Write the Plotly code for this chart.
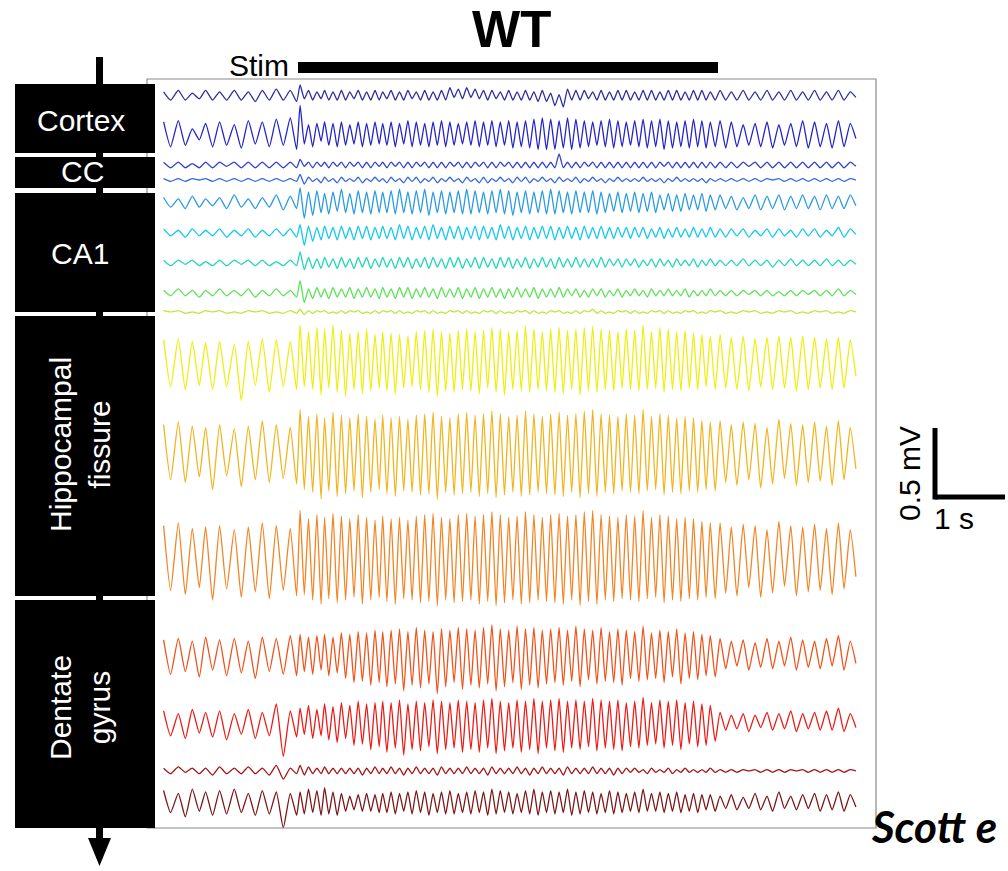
import numpy as np
import plotly.graph_objects as go

# ---------------- data ----------------
# times (s) of the successive peaks and troughs shared by all channels
PEAK_T = [0.08, 0.29, 0.49, 0.68, 0.88, 1.09, 1.29, 1.49, 1.69, 1.89,
          2.03, 2.15, 2.27, 2.38, 2.50, 2.62, 2.74, 2.86, 2.98, 3.10,
          3.21, 3.33, 3.45, 3.57, 3.69, 3.81, 3.93, 4.05, 4.17, 4.29,
          4.41, 4.53, 4.65, 4.77, 4.89, 5.01, 5.13, 5.25, 5.37, 5.49,
          5.61, 5.73, 5.85, 5.97, 6.09, 6.21, 6.33, 6.45, 6.57, 6.69,
          6.81, 6.93, 7.05, 7.17, 7.29, 7.41, 7.53, 7.65, 7.77, 7.89,
          8.03, 8.19, 8.36, 8.53, 8.70, 8.87, 9.04, 9.21, 9.38, 9.55, 9.72, 9.89]
TROUGH_T = [0.18, 0.39, 0.59, 0.78, 0.98, 1.19, 1.39, 1.59, 1.79, 1.98,
            2.09, 2.21, 2.33, 2.44, 2.56, 2.68, 2.80, 2.92, 3.04, 3.16,
            3.27, 3.39, 3.51, 3.63, 3.75, 3.87, 3.99, 4.11, 4.23, 4.35,
            4.47, 4.59, 4.71, 4.83, 4.95, 5.07, 5.19, 5.31, 5.43, 5.55,
            5.67, 5.79, 5.91, 6.03, 6.15, 6.27, 6.39, 6.51, 6.63, 6.75,
            6.87, 6.99, 7.11, 7.23, 7.35, 7.47, 7.59, 7.71, 7.83, 7.96,
            8.11, 8.27, 8.44, 8.61, 8.78, 8.95, 9.12, 9.29, 9.46, 9.63, 9.80, 9.97]

STIM_START_S, STIM_END_S = 2.0, 8.0
SCALE_T_S, SCALE_V_MV = 1.0, 0.5

channel_names = ["Cortex 1", "Cortex 2", "CC 1", "CC 2", "CA1 1", "CA1 2", "CA1 3", "CA1 4", "CA1 5",
                 "HF 1", "HF 2", "HF 3", "DG 1", "DG 2", "DG 3", "DG 4"]
channel_colors = ["#2e2e9e", "#2323c8", "#3340cc", "#3366dd", "#2a9ae0", "#14c8f0", "#22d6b8", "#5ee25a",
                  "#bce63c", "#eeee10", "#f2b41e", "#f28424", "#f0521a", "#ec1a14", "#a51414", "#7a1616"]
channel_offset_mV = [-0.123, -0.391, -0.623, -0.732, -0.899, -1.116, -1.333, -1.551, -1.688,
                     -2.051, -2.725, -3.486, -4.174, -4.659, -5.014, -5.246]

# peak/trough values (units of 0.01 mV), alternating peak, trough
cortex_1 = [3,-3, 4,-3, 2,-2, 4,-3, 3,-3, 4,-3, 3,-4, 4,-3, 5,-3, 4,-4,
            8,-2, 4,-3, 3,-2, 4,-3, 3,-3, 4,-3, 3,-2, 4,-3, 3,-3, 4,-3,
            3,-2, 4,-3, 3,-3, 4,-2, 3,-3, 4,-3, 3,-3, 4,-3, 6,-1, 5,-2,
            6,-1, 5,-2, 4,-3, 4,-2, 3,-3, 4,-3, 3,-3, 4,-3, 3,-4, 4,-4,
            2,-7, 1,-8, 5,-3, 4,-3, 4,-2, 3,-3, 4,-3, 3,-3, 4,-3, 4,-3,
            3,-3, 4,-3, 4,-3, 3,-3, 4,-3, 4,-3, 3,-3, 4,-3, 4,-3, 3,-3,
            4,-3, 3,-3, 4,-3, 3,-3, 4,-3, 3,-3, 4,-3, 3,-3, 4,-3, 3,-3, 4,-3, 3,-1]
cortex_2 = [8,-10, 9,-9, 3,-5, 7,-10, 8,-9, 6,-11, 9,-8, 8,-10, 10,-9, 11,-12,
            20,-8, 6,-10, 7,-6, 8,-9, 7,-10, 8,-9, 6,-8, 8,-10, 7,-9, 8,-8,
            7,-9, 8,-10, 7,-8, 9,-10, 8,-9, 7,-10, 8,-9, 9,-10, 8,-9, 7,-8,
            8,-9, 9,-10, 8,-9, 9,-10, 8,-9, 9,-11, 8,-10, 9,-11, 10,-12, 11,-12,
            10,-12, 9,-11, 11,-12, 10,-11, 9,-10, 8,-9, 9,-10, 10,-11, 9,-10, 8,-9,
            9,-10, 10,-11, 9,-10, 10,-12, 9,-11, 8,-10, 9,-11, 10,-10, 9,-11, 8,-10,
            9,-11, 8,-10, 6,-9, 7,-10, 8,-11, 6,-9, 7,-10, 9,-11, 8,-10, 7,-11, 9,-10, 7,-4]
cc_1 = [2,-2, 2,-2, 1,-2, 2,-2, 2,-1, 2,-2, 2,-2, 2,-2, 2,-2, 2,-2,
        4,-1, 2,-2, 2,-1, 2,-2, 2,-1, 2,-2, 2,-1, 2,-2, 2,-2, 2,-1,
        2,-2, 2,-1, 2,-2, 2,-2, 2,-1, 2,-2, 2,-2, 2,-2, 2,-1, 2,-2,
        2,-2, 2,-1, 2,-2, 2,-2, 2,-1, 2,-2, 2,-2, 2,-2, 2,-2, 2,-2,
        2,-2, 8,-2, 2,-2, 2,-2, 2,-1, 2,-2, 2,-2, 2,-2, 2,-2, 2,-2,
        2,-2, 2,-2, 2,-2, 2,-1, 2,-2, 2,-2, 2,-2, 2,-2, 2,-2, 2,-2,
        2,-2, 2,-2, 2,-1, 2,-2, 2,-2, 2,-2, 2,-2, 2,-2, 2,-2, 2,-2, 2,-2, 2,-1]
cc_2 = [1,-1, 1,-1, 1,0, 1,-1, 1,-1, 1,-1, 1,-1, 1,-1, 1,-1, 1,-1,
        4,-3, 2,-1, 1,-2, 2,-1, 1,-2, 2,-1, 1,-1, 2,-2, 1,-1, 2,-1,
        1,-2, 2,-1, 1,-2, 2,-1, 2,-2, 1,-1, 2,-2, 1,-1, 2,-1, 1,-2,
        2,-1, 1,-2, 2,-2, 1,-1, 2,-1, 1,-2, 2,-1, 2,-2, 1,-1, 2,-1,
        1,-2, 2,-1, 1,-1, 2,-2, 1,-1, 2,-1, 1,-2, 1,-1, 2,-1, 1,-1,
        1,-1, 2,-1, 1,-1, 1,-2, 1,-1, 2,-1, 1,-1, 1,-1, 1,-2, 1,-1,
        1,-1, 1,-1, 1,-1, 1,-1, 1,0, 1,-1, 1,-1, 1,-1, 1,-1, 1,-1, 1,-1, 1,0]
ca1_1 = [4,-3, 3,-4, 5,-3, 3,-2, 4,-4, 6,-3, 3,-4, 4,-3, 6,-5, 5,-4,
         11,-11, 8,-9, 9,-7, 7,-8, 8,-6, 10,-7, 7,-8, 9,-7, 8,-8, 9,-7,
         8,-7, 9,-8, 10,-7, 8,-8, 9,-7, 10,-9, 8,-7, 9,-8, 8,-7, 9,-8,
         10,-8, 9,-7, 8,-8, 9,-7, 10,-8, 9,-9, 8,-7, 9,-8, 8,-7, 9,-8,
         10,-8, 9,-7, 8,-8, 9,-7, 8,-7, 9,-8, 8,-7, 7,-6, 8,-7, 7,-6,
         8,-7, 7,-6, 8,-7, 6,-5, 7,-6, 6,-6, 7,-5, 6,-5, 7,-6, 6,-5,
         6,-4, 5,-5, 4,-4, 6,-5, 5,-4, 6,-5, 5,-4, 6,-4, 5,-5, 6,-4, 5,-4, 6,-2]
ca1_2 = [3,-2, 2,-3, 3,-2, 2,-2, 3,-3, 2,-2, 3,-3, 2,-2, 3,-2, 3,-3,
         6,-9, 5,-6, 4,-5, 5,-4, 4,-5, 5,-4, 4,-5, 5,-4, 5,-5, 4,-4,
         5,-4, 4,-5, 6,-4, 5,-5, 4,-4, 5,-5, 6,-4, 4,-5, 5,-4, 5,-5,
         4,-4, 5,-5, 5,-4, 4,-5, 6,-4, 5,-5, 4,-4, 5,-5, 4,-4, 5,-4,
         5,-5, 4,-4, 5,-4, 4,-5, 5,-4, 4,-4, 5,-4, 4,-4, 4,-3, 4,-4,
         4,-3, 4,-4, 3,-3, 4,-4, 3,-3, 4,-3, 3,-3, 4,-3, 3,-3, 4,-3,
         3,-3, 3,-2, 3,-3, 2,-2, 3,-3, 3,-2, 2,-3, 3,-2, 3,-3, 2,-2, 4,-3, 3,-1]
ca1_3 = [2,-2, 2,-1, 2,-2, 1,-2, 2,-2, 2,-1, 2,-2, 2,-2, 1,-2, 2,-2,
         8,-5, 4,-4, 3,-4, 4,-3, 3,-4, 4,-3, 3,-4, 4,-3, 4,-4, 3,-3,
         4,-3, 3,-4, 4,-3, 4,-4, 3,-3, 4,-4, 4,-3, 3,-4, 4,-3, 4,-4,
         3,-3, 4,-4, 4,-3, 3,-4, 4,-3, 4,-4, 3,-3, 4,-4, 3,-3, 4,-3,
         3,-4, 4,-3, 3,-3, 4,-3, 3,-3, 3,-3, 4,-3, 3,-2, 3,-3, 3,-2,
         3,-3, 2,-2, 3,-3, 3,-2, 2,-3, 3,-2, 2,-2, 3,-3, 2,-2, 3,-2,
         2,-2, 2,-2, 3,-2, 2,-2, 2,-3, 2,-2, 3,-2, 2,-2, 2,-2, 3,-2, 2,-2, 2,-1]
ca1_4 = [2,-2, 3,-2, 2,-3, 2,-2, 3,-2, 2,-2, 3,-3, 2,-2, 3,-2, 2,-3,
         9,-7, 3,-4, 4,-3, 3,-4, 4,-3, 3,-3, 4,-4, 3,-3, 4,-3, 3,-4,
         4,-3, 3,-4, 4,-3, 4,-4, 3,-3, 4,-3, 3,-4, 4,-3, 3,-3, 4,-4,
         3,-3, 4,-4, 3,-3, 4,-3, 3,-4, 3,-3, 4,-3, 3,-3, 4,-4, 3,-3,
         3,-3, 4,-3, 3,-2, 3,-3, 2,-3, 3,-2, 3,-3, 2,-2, 3,-3, 2,-2,
         3,-2, 2,-3, 3,-2, 2,-2, 3,-2, 2,-2, 3,-3, 2,-2, 2,-2, 3,-2,
         2,-2, 2,-2, 2,-1, 2,-2, 2,-2, 1,-2, 2,-2, 2,-1, 2,-2, 2,-2, 3,-2, 2,-1]
ca1_5 = [1,0, 1,-1, 0,-1, 1,0, 1,-1, 0,-1, 1,0, 1,-1, 0,-1, 1,-1,
         2,-2, 1,-1, 1,0, 1,-1, 0,-1, 1,-1, 1,0, 1,-1, 0,-1, 1,-1,
         1,0, 1,-1, 1,-1, 0,-1, 1,0, 1,-1, 1,-1, 0,-1, 1,0, 1,-1,
         1,-1, 0,-1, 1,0, 1,-1, 1,-1, 0,-1, 1,0, 1,-1, 1,-1, 0,-1,
         1,0, 1,-1, 0,-1, 1,-1, 1,0, 2,-1, 1,-1, 0,-1, 1,0, 1,-1,
         1,-1, 0,-1, 1,0, 1,-1, 1,-1, 0,-1, 1,0, 1,-1, 0,-1, 1,0,
         1,-1, 0,-1, 1,0, 1,-1, 0,-1, 1,0, 1,-1, 0,-1, 1,0, 1,-1, 0,-1, 1,0]
hf_1 = [16,-18, 17,-20, 15,-17, 14,-20, 15,-18, 13,-28, 15,-17, 17,-22, 16,-18, 15,-20,
        27,-18, 22,-20, 25,-24, 24,-19, 27,-22, 23,-25, 21,-20, 22,-23, 24,-21, 20,-19,
        22,-21, 21,-23, 20,-19, 19,-18, 22,-20, 23,-22, 24,-25, 22,-21, 21,-22, 23,-20,
        24,-21, 22,-23, 23,-19, 25,-22, 24,-24, 22,-20, 23,-21, 26,-22, 24,-20, 22,-21,
        24,-22, 25,-23, 23,-20, 24,-24, 25,-21, 26,-22, 24,-20, 23,-21, 22,-19, 24,-20,
        23,-21, 27,-20, 22,-19, 25,-22, 24,-20, 22,-21, 23,-19, 21,-20, 20,-18, 19,-20,
        20,-19, 18,-20, 19,-21, 17,-18, 18,-20, 19,-19, 18,-21, 19,-20, 18,-19, 17,-20, 18,-19, 16,-10]
hf_2 = [22,-18, 24,-20, 21,-16, 20,-25, 22,-15, 19,-23, 21,-18, 25,-20, 22,-17, 20,-21,
        33,-25, 28,-27, 30,-32, 27,-26, 31,-30, 29,-28, 27,-26, 30,-31, 28,-27, 26,-25,
        29,-28, 27,-30, 28,-26, 26,-27, 29,-29, 30,-28, 31,-32, 28,-27, 27,-29, 30,-28,
        31,-27, 29,-30, 30,-28, 32,-31, 30,-29, 28,-27, 29,-30, 32,-29, 30,-27, 28,-28,
        30,-29, 31,-30, 29,-27, 30,-31, 32,-28, 33,-30, 30,-27, 29,-28, 28,-26, 30,-27,
        29,-28, 33,-26, 28,-25, 30,-29, 29,-27, 27,-28, 28,-26, 27,-27, 25,-25, 24,-26,
        25,-20, 22,-22, 24,-18, 23,-24, 20,-21, 26,-17, 23,-22, 22,-20, 24,-19, 21,-22, 25,-18, 20,-10]
hf_3 = [25,-22, 27,-25, 23,-20, 24,-29, 25,-21, 22,-27, 24,-23, 27,-28, 25,-22, 23,-26,
        36,-25, 30,-29, 33,-32, 31,-28, 34,-31, 32,-29, 30,-27, 33,-32, 31,-29, 29,-27,
        32,-30, 30,-32, 31,-28, 29,-29, 32,-31, 33,-30, 34,-33, 31,-29, 30,-31, 33,-30,
        34,-29, 32,-32, 33,-30, 35,-33, 33,-31, 31,-29, 32,-32, 35,-31, 33,-29, 31,-30,
        33,-31, 34,-32, 32,-29, 33,-33, 35,-30, 36,-32, 33,-29, 32,-30, 31,-28, 33,-29,
        32,-30, 36,-28, 31,-27, 33,-31, 32,-29, 30,-30, 31,-28, 30,-29, 28,-27, 27,-28,
        27,-24, 24,-26, 26,-20, 25,-27, 22,-24, 28,-19, 25,-26, 24,-23, 26,-22, 23,-25, 27,-21, 22,-12]
dg_1 = [11,-14, 12,-12, 10,-16, 13,-11, 11,-15, 12,-13, 10,-17, 13,-12, 12,-14, 14,-15,
        15,-12, 13,-14, 14,-11, 15,-15, 13,-13, 16,-17, 15,-20, 17,-19, 16,-22, 18,-20,
        17,-23, 18,-21, 19,-26, 17,-22, 20,-24, 18,-21, 17,-28, 19,-23, 18,-20, 20,-25,
        19,-22, 18,-24, 20,-21, 22,-26, 19,-23, 18,-20, 21,-25, 19,-22, 20,-24, 18,-21,
        19,-20, 20,-22, 18,-19, 21,-23, 19,-18, 18,-21, 20,-19, 17,-20, 19,-22, 18,-17,
        17,-19, 21,-18, 16,-17, 18,-20, 17,-16, 19,-21, 16,-17, 17,-18, 15,-15, 14,-16,
        12,-10, 10,-8, 11,-11, 9,-9, 12,-10, 10,-8, 13,-11, 11,-9, 10,-10, 12,-8, 14,-11, 10,-6]
dg_2 = [8,-10, 6,-12, 9,-8, 7,-11, 8,-13, 6,-9, 9,-12, 7,-10, 13,-25, 8,-11,
        10,-9, 12,-12, 9,-10, 13,-13, 11,-15, 14,-12, 12,-17, 15,-16, 13,-20, 14,-18,
        15,-22, 14,-19, 16,-24, 13,-20, 15,-21, 14,-18, 16,-23, 15,-20, 14,-19, 16,-22,
        15,-20, 14,-22, 16,-19, 17,-23, 15,-21, 14,-19, 16,-22, 15,-20, 17,-23, 15,-19,
        16,-21, 17,-22, 15,-19, 16,-20, 15,-18, 17,-21, 16,-19, 15,-20, 16,-21, 14,-18,
        15,-19, 18,-17, 14,-16, 16,-19, 15,-17, 16,-20, 14,-16, 15,-18, 13,-17, 12,-14,
        7,-6, 5,-5, 6,-7, 5,-4, 7,-6, 6,-5, 8,-7, 6,-5, 7,-6, 8,-6, 10,-7, 6,-4]
dg_3 = [2,-2, 3,-1, 2,-2, 2,-3, 3,-2, 2,-2, 3,-2, 2,-3, 4,-6, 2,-2,
        4,-3, 3,-2, 2,-2, 3,-2, 2,-2, 2,-2, 2,-2, 2,-3, 2,-2, 3,-2,
        2,-2, 3,-2, 2,-3, 2,-2, 3,-2, 2,-2, 2,-3, 3,-2, 2,-2, 2,-2,
        3,-2, 2,-2, 2,-3, 3,-2, 2,-2, 2,-2, 3,-2, 2,-3, 2,-2, 3,-2,
        2,-2, 2,-3, 3,-2, 2,-2, 2,-2, 3,-2, 2,-2, 2,-3, 2,-2, 2,-1,
        2,-1, 1,-2, 2,-1, 1,-1, 2,-2, 1,-1, 2,-1, 1,-1, 1,-1, 2,-1,
        1,-1, 1,-1, 1,0, 1,-1, 1,-1, 1,-1, 1,0, 1,-1, 1,-1, 1,-1, 1,-1, 1,0]
dg_4 = [9,-7, 7,-10, 10,-6, 8,-9, 9,-8, 10,-7, 7,-9, 9,-8, 8,-18, 7,-9,
        8,-8, 10,-7, 9,-9, 11,-8, 8,-9, 7,-6, 5,-5, 6,-6, 7,-6, 6,-7,
        7,-7, 8,-8, 7,-6, 8,-8, 9,-7, 8,-9, 7,-7, 8,-8, 9,-8, 7,-7,
        8,-8, 9,-7, 8,-9, 10,-8, 9,-7, 8,-8, 7,-7, 9,-8, 10,-9, 8,-7,
        9,-8, 8,-7, 10,-9, 8,-8, 9,-7, 8,-8, 7,-7, 9,-8, 8,-7, 7,-6,
        8,-7, 10,-6, 7,-6, 8,-7, 7,-6, 8,-7, 6,-6, 7,-7, 6,-5, 6,-6,
        5,-4, 6,-5, 4,-4, 7,-5, 5,-6, 8,-4, 5,-5, 6,-4, 7,-6, 6,-5, 8,-6, 6,-3]

channel_values = [cortex_1, cortex_2, cc_1, cc_2, ca1_1, ca1_2, ca1_3, ca1_4, ca1_5,
                  hf_1, hf_2, hf_3, dg_1, dg_2, dg_3, dg_4]

region_labels = ["Cortex", "CC", "CA1", "Hippocampal<br>fissure", "Dentate<br>gyrus"]

# ---------------- layout geometry (pixels) ----------------
W, H = 1008, 871
X0_PX, PX_PER_S = 158, 70.0      # t = 0 s position, 1 s = 70 px
Y0_PX, PX_PER_MV = 79, 138.0     # 0 mV position, 0.5 mV = 69 px
FONT = "Liberation Sans, Arial, sans-serif"


def px_x(px):
    return px / W


def px_y(py):
    return 1 - py / H


def rect_px(x0, y0, x1, y1, **kw):
    return dict(type="rect", xref="paper", yref="paper",
                x0=px_x(x0), x1=px_x(x1), y0=px_y(y1), y1=px_y(y0), **kw)


fig = go.Figure()

ext_t = []
for p, tr in zip(PEAK_T, TROUGH_T):
    ext_t += [p, tr]

for name, col, off, vals in zip(channel_names, channel_colors, channel_offset_mV, channel_values):
    n = min(len(vals), len(ext_t))
    y = off + np.array(vals[:n], dtype=float) * 0.01
    fig.add_trace(go.Scatter(x=ext_t[:n], y=y, mode="lines", name=name,
                             line=dict(color=col, width=1.3, shape="spline", smoothing=0.5),
                             hoverinfo="skip"))

shapes = []
# plot frame
shapes.append(rect_px(147, 79, 876, 828, line=dict(color="#8a8a8a", width=1.2), fillcolor="rgba(0,0,0,0)"))
# arrow shaft + head
shapes.append(rect_px(96, 57, 103, 840, line=dict(width=0), fillcolor="black"))
shapes.append(dict(type="path", xref="paper", yref="paper",
                   path=f"M {px_x(88)},{px_y(838)} L {px_x(111)},{px_y(838)} L {px_x(99.5)},{px_y(866)} Z",
                   fillcolor="black", line=dict(width=0)))
# region panels
panels = [(84, 153), (157, 188), (193, 312), (316, 596), (600, 828)]
for (a, b) in panels:
    shapes.append(rect_px(15, a, 155, b, line=dict(width=0), fillcolor="black"))
# stim bar (data x)
shapes.append(dict(type="rect", xref="x", yref="paper", x0=STIM_START_S, x1=STIM_END_S,
                   y0=px_y(73), y1=px_y(62), fillcolor="black", line=dict(width=0)))
# scale bar (data units)
sb_t = (935 - X0_PX) / PX_PER_S
sb_v = (Y0_PX - 497) / PX_PER_MV
shapes.append(dict(type="line", xref="x", yref="y", x0=sb_t, x1=sb_t, y0=sb_v - 0.018, y1=sb_v + SCALE_V_MV,
                   line=dict(color="black", width=5)))
shapes.append(dict(type="line", xref="x", yref="y", x0=sb_t, x1=sb_t + SCALE_T_S, y0=sb_v, y1=sb_v,
                   line=dict(color="black", width=5)))

annotations = []
label_pos = [(81, 121, 0), (82, 172, 0), (80, 253, 0), (80, 445, -90), (80, 708, -90)]
for txt, (x, y, ang) in zip(region_labels, label_pos):
    annotations.append(dict(text=txt, x=px_x(x), y=px_y(y), xref="paper", yref="paper",
                            showarrow=False, textangle=ang, xanchor="center", yanchor="middle",
                            font=dict(family=FONT, size=30, color="white")))
annotations.append(dict(text="<b>WT</b>", x=px_x(511), y=px_y(30), xref="paper", yref="paper",
                        showarrow=False, xanchor="center", yanchor="middle",
                        font=dict(family=FONT, size=51, color="black")))
annotations.append(dict(text="Stim", x=px_x(291), y=px_y(66), xref="paper", yref="paper",
                        showarrow=False, xanchor="right", yanchor="middle",
                        font=dict(family=FONT, size=30, color="black")))
annotations.append(dict(text="0.5 mV", x=px_x(909), y=px_y(474), xref="paper", yref="paper",
                        showarrow=False, textangle=-90, xanchor="center", yanchor="middle",
                        font=dict(family=FONT, size=30, color="black")))
annotations.append(dict(text="1 s", x=px_x(954), y=px_y(518), xref="paper", yref="paper",
                        showarrow=False, xanchor="center", yanchor="middle",
                        font=dict(family=FONT, size=30, color="black")))
annotations.append(dict(text="<b><i>Scott e</i></b>", x=px_x(869), y=px_y(826), xref="paper", yref="paper",
                        showarrow=False, xanchor="left", yanchor="middle",
                        font=dict(family="Lato, Open Sans, sans-serif", size=44, color="black")))

fig.update_layout(
    width=W, height=H, margin=dict(l=0, r=0, t=0, b=0),
    paper_bgcolor="white", plot_bgcolor="white", showlegend=False,
    xaxis=dict(range=[-X0_PX / PX_PER_S, (W - X0_PX) / PX_PER_S], domain=[0, 1], visible=False, fixedrange=True),
    yaxis=dict(range=[(Y0_PX - H) / PX_PER_MV, Y0_PX / PX_PER_MV], domain=[0, 1], visible=False, fixedrange=True),
    shapes=shapes, annotations=annotations,
)

fig.write_html("out.html")
